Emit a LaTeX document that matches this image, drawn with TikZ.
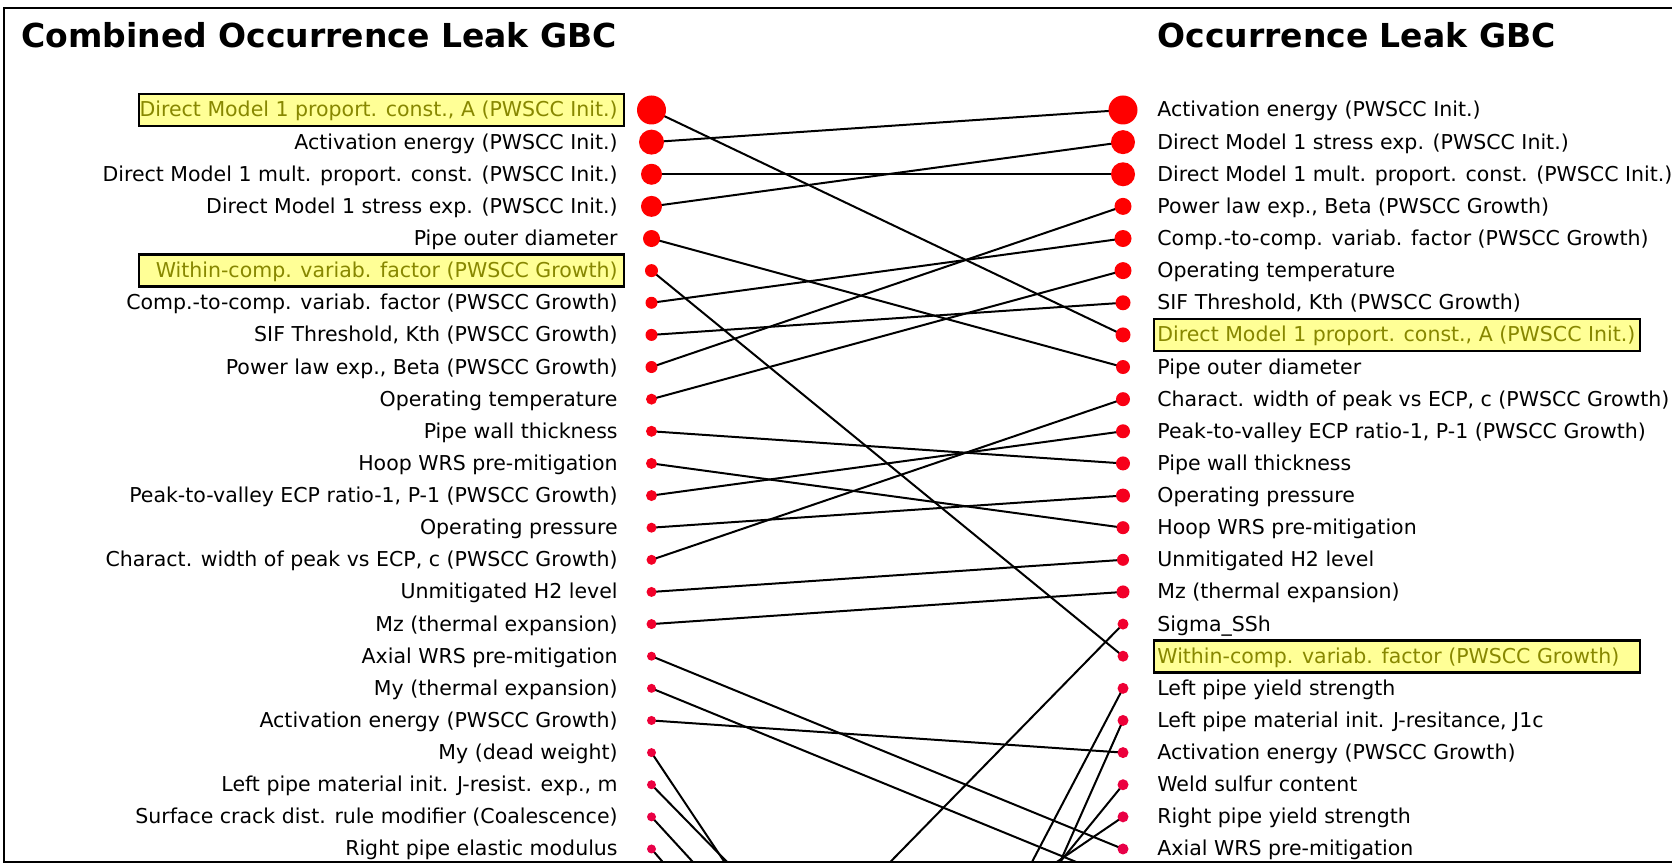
\documentclass[tikz,border=0pt]{standalone}
\usepackage{fontspec}
\setmainfont{DejaVu Sans}
\newcommand\lblfont{\fontsize{10.25}{12}\selectfont}
\newcommand\ttlfont{\fontsize{16.5}{20}\selectfont\bfseries}
\definecolor{hlfill}{RGB}{255,255,150}
\definecolor{hlolive}{RGB}{135,135,0}
\definecolor{crim}{RGB}{232,0,72}
\pgfdeclarelayer{bg}
\pgfsetlayers{bg,main}
\tikzset{
  lbl/.style={font=\lblfont, text=black, inner sep=0pt},
  plain/.style={},
  hl/.style={text=hlolive},
  hlbox/.style={draw=black, line width=1.4pt, fill=hlfill},
  dot/.style={circle, inner sep=0pt, draw=none},
  link/.style={line width=1pt, black},
  frameline/.style={line width=1.4pt, black},
  ttl/.style={font=\ttlfont, inner sep=0pt, anchor=base west}
}
\begin{document}
\begin{tikzpicture}[x=0.5pt,y=-0.5pt]
\useasboundingbox (0,0) rectangle (1672,865);

% frame
\draw[frameline] (1672,8) -- (4,8) -- (4,862) -- (1672,862);

% titles
\node[ttl] (ttlL) at (21,48) {Combined Occurrence Leak GBC};
\node[ttl] (ttlR) at (1157,48) {Occurrence Leak GBC};

% highlight boxes
\draw[hlbox] (139,94) rectangle (624,126);
\draw[hlbox] (139,254.6) rectangle (624,286.6);
\draw[hlbox] (1154,319) rectangle (1640,351);
\draw[hlbox] (1154,640.3) rectangle (1640,672.3);

% left ranking
\foreach \i/\t/\s in {
  1/{Direct Model 1 proport. const., A (PWSCC Init.)}/hl,
  2/{Activation energy (PWSCC Init.)}/plain,
  3/{Direct Model 1 mult. proport. const. (PWSCC Init.)}/plain,
  4/{Direct Model 1 stress exp. (PWSCC Init.)}/plain,
  5/{Pipe outer diameter}/plain,
  6/{Within-comp. variab. factor (PWSCC Growth)}/hl,
  7/{Comp.-to-comp. variab. factor (PWSCC Growth)}/plain,
  8/{SIF Threshold, Kth (PWSCC Growth)}/plain,
  9/{Power law exp., Beta (PWSCC Growth)}/plain,
  10/{Operating temperature}/plain,
  11/{Pipe wall thickness}/plain,
  12/{Hoop WRS pre-mitigation}/plain,
  13/{Peak-to-valley ECP ratio-1, P-1 (PWSCC Growth)}/plain,
  14/{Operating pressure}/plain,
  15/{Charact. width of peak vs ECP, c (PWSCC Growth)}/plain,
  16/{Unmitigated H2 level}/plain,
  17/{Mz (thermal expansion)}/plain,
  18/{Axial WRS pre-mitigation}/plain,
  19/{My (thermal expansion)}/plain,
  20/{Activation energy (PWSCC Growth)}/plain,
  21/{My (dead weight)}/plain,
  22/{Left pipe material init. J-resist. exp., m}/plain,
  23/{Surface crack dist. rule modifier (Coalescence)}/plain,
  24/{Right pipe elastic modulus}/plain}{
  \pgfmathsetmacro\yy{110+32.13*(\i-1)}
  \node[lbl,\s,anchor=base east] (lt\i) at (618,\yy+7) {\t};
}

% right ranking
\foreach \i/\t/\s in {
  1/{Activation energy (PWSCC Init.)}/plain,
  2/{Direct Model 1 stress exp. (PWSCC Init.)}/plain,
  3/{Direct Model 1 mult. proport. const. (PWSCC Init.)}/plain,
  4/{Power law exp., Beta (PWSCC Growth)}/plain,
  5/{Comp.-to-comp. variab. factor (PWSCC Growth)}/plain,
  6/{Operating temperature}/plain,
  7/{SIF Threshold, Kth (PWSCC Growth)}/plain,
  8/{Direct Model 1 proport. const., A (PWSCC Init.)}/hl,
  9/{Pipe outer diameter}/plain,
  10/{Charact. width of peak vs ECP, c (PWSCC Growth)}/plain,
  11/{Peak-to-valley ECP ratio-1, P-1 (PWSCC Growth)}/plain,
  12/{Pipe wall thickness}/plain,
  13/{Operating pressure}/plain,
  14/{Hoop WRS pre-mitigation}/plain,
  15/{Unmitigated H2 level}/plain,
  16/{Mz (thermal expansion)}/plain,
  17/{Sigma\_SSh}/plain,
  18/{Within-comp. variab. factor (PWSCC Growth)}/hl,
  19/{Left pipe yield strength}/plain,
  20/{Left pipe material init. J-resitance, J1c}/plain,
  21/{Activation energy (PWSCC Growth)}/plain,
  22/{Weld sulfur content}/plain,
  23/{Right pipe yield strength}/plain,
  24/{Axial WRS pre-mitigation}/plain}{
  \pgfmathsetmacro\yy{110+32.13*(\i-1)}
  \node[lbl,\s,anchor=base west] (rt\i) at (1157,\yy+7) {\t};
}

% importance dots, left column
\foreach \i/\r in {1/14.5,2/12.5,3/10.5,4/10.5,5/8.5,6/6.5,7/6,8/6,9/6,10/5.5,
  11/5.5,12/5.5,13/5.5,14/5,15/5,16/5,17/5,18/4.5,19/4.5,20/4.5,21/4.5,22/4.5,23/4.5,24/4.5}{
  \pgfmathsetmacro\yy{110+32.13*(\i-1)}
  \pgfmathtruncatemacro\mx{\i<6 ? 0 : (\i-5)*100/19}
  \node[dot, fill=crim!\mx!red, minimum size=\r pt] (l\i) at (651.5,\yy) {};
}
% importance dots, right column
\foreach \i/\r in {1/14.5,2/12,3/12,4/8.5,5/8.5,6/8.5,7/7.5,8/7.5,9/7,10/7,
  11/7,12/7,13/7,14/6.5,15/6,16/6.5,17/5.5,18/5.5,19/5.5,20/5.5,21/5.5,22/5.5,23/5.5,24/5.5}{
  \pgfmathsetmacro\yy{110+32.13*(\i-1)}
  \pgfmathtruncatemacro\mx{\i<6 ? 0 : (\i-5)*100/19}
  \node[dot, fill=crim!\mx!red, minimum size=\r pt] (r\i) at (1123,\yy) {};
}

% ranks further down the lists
\foreach \k in {25,37,39,41,43}{
  \coordinate (rv\k) at (1123,{110+32.13*(\k-1)});
}
\foreach \k in {32,33,40,47,53}{
  \coordinate (lv\k) at (651.5,{110+32.13*(\k-1)});
}

% rank changes
\begin{pgfonlayer}{bg}
\begin{scope}
\clip (4,8) rectangle (1672,862);
\foreach \a/\b in {1/8,2/1,3/3,4/2,5/9,6/18,7/5,8/7,9/4,10/6,11/12,12/14,
  13/11,14/13,15/10,16/15,17/16,18/24,20/21}{
  \draw[link] (l\a.center) -- (r\b.center);
}
\foreach \a/\b in {19/25,21/43,22/37,23/39,24/41}{
  \draw[link] (l\a.center) -- (rv\b);
}
\foreach \a/\b in {32/17,47/19,53/20,40/22,33/23}{
  \draw[link] (lv\a) -- (r\b.center);
}
\end{scope}
\end{pgfonlayer}
\end{tikzpicture}
\end{document}
